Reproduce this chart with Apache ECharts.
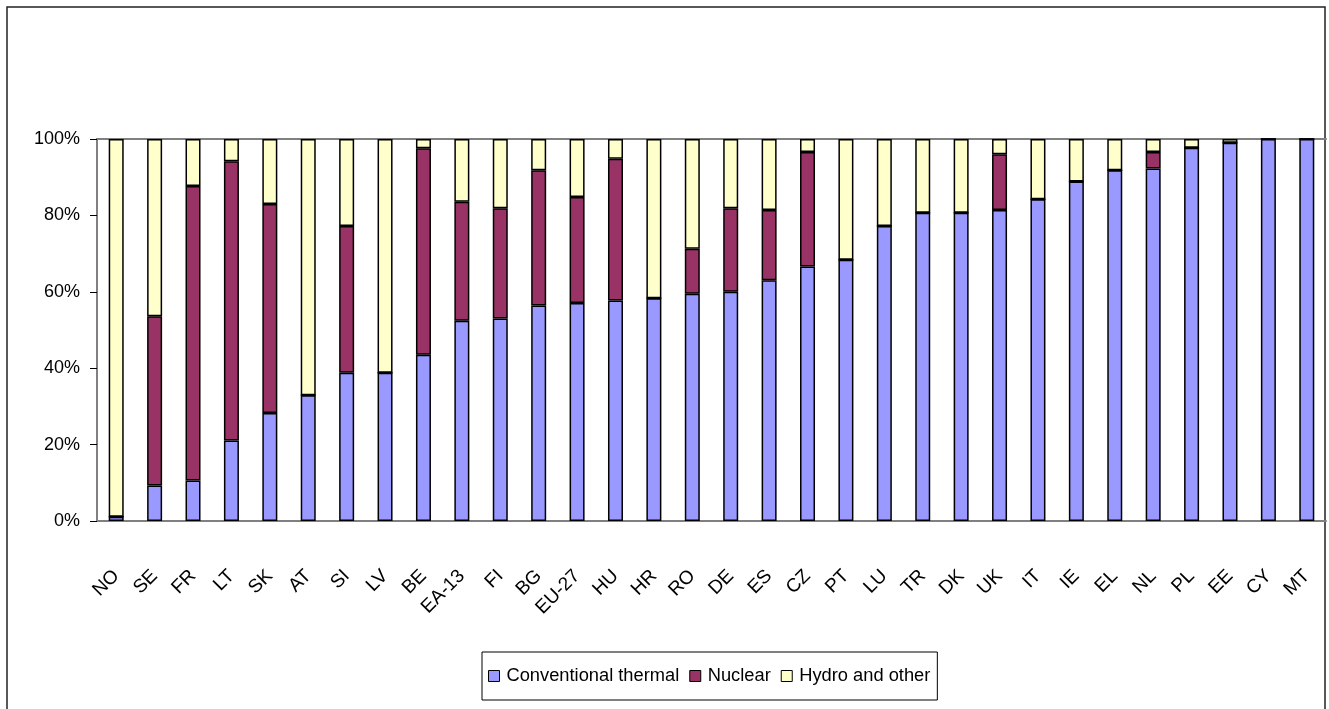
<!DOCTYPE html>
<html>
<head>
<meta charset="utf-8">
<script src="https://cdn.jsdelivr.net/npm/echarts@6/dist/echarts.min.js"></script>
<style>
  html, body { margin: 0; padding: 0; background: #fff; }
  #chart { width: 1329px; height: 709px; }
</style>
</head>
<body>
<div id="chart"></div>
<script>
var categories = ['NO', 'SE', 'FR', 'LT', 'SK', 'AT', 'SI', 'LV', 'BE', 'EA-13', 'FI', 'BG', 'EU-27', 'HU', 'HR', 'RO',
  'DE', 'ES', 'CZ', 'PT', 'LU', 'TR', 'DK', 'UK', 'IT', 'IE', 'EL', 'NL', 'PL', 'EE', 'CY', 'MT']
var conventional = [1.1, 9.3, 10.6, 21.1, 28.3, 32.9, 38.8, 38.8, 43.5, 52.4, 53.0, 56.4, 57.1, 57.7, 58.3, 59.5,
  60.0, 63.0, 66.6, 68.4, 77.2, 80.7, 80.7, 81.4, 84.2, 88.9, 91.8, 92.3, 97.7, 99.0, 100, 100]
var nuclear = [0, 44.3, 77.1, 73.1, 54.7, 0, 38.4, 0, 54.1, 31.2, 28.9, 35.4, 27.7, 37.1, 0, 11.8,
  21.9, 18.4, 30.0, 0, 0, 0, 0, 14.6, 0, 0, 0, 4.3, 0, 0, 0, 0]
var hydro = [98.9, 46.4, 12.3, 5.8, 17.0, 67.1, 22.8, 61.2, 2.4, 16.4, 18.1, 8.2, 15.2, 5.2, 41.7, 28.7,
  18.1, 18.6, 3.4, 31.6, 22.8, 19.3, 19.3, 4.0, 15.8, 11.1, 8.2, 3.4, 2.3, 1.0, 0, 0]
var yTicks = [0, 20, 40, 60, 80, 100]

var font = '"Liberation Sans Narrow", "Liberation Sans", sans-serif'
var myChart = echarts.init(document.getElementById('chart'))

function barSeries (name, data, color) {
  return {
    name: name,
    type: 'bar',
    stack: 'total',
    barWidth: 15,
    data: data,
    itemStyle: {
      color: color,
      borderColor: '#000',
      borderWidth: 1.5
    }
  }
}

var option = {
  animation: false,
  textStyle: { fontFamily: font },
  graphic: [{
    type: 'rect',
    shape: { x: 7, y: 7, width: 1318, height: 720 },
    style: { fill: 'none', stroke: '#222', lineWidth: 1.5 },
    silent: true
  }],
  grid: { left: 97, right: 3, top: 139, bottom: 188 },
  legend: {
    left: 482,
    top: 652,
    itemWidth: 11,
    itemHeight: 11,
    itemGap: 10,
    padding: [15, 7, 15, 6],
    borderColor: '#000',
    borderWidth: 1,
    icon: 'rect',
    itemStyle: { borderColor: '#000', borderWidth: 1 },
    textStyle: { fontFamily: font, fontSize: 18.3, color: '#000', padding: [0, 0, 0, 2] },
    data: ['Conventional thermal', 'Nuclear', 'Hydro and other']
  },
  xAxis: [{
    type: 'category',
    data: categories,
    axisLine: { lineStyle: { color: '#808080', width: 2 } },
    axisTick: { length: 7, lineStyle: { color: '#222' } },
    axisLabel: {
      interval: 0,
      rotate: 45,
      margin: 52,
      fontFamily: font,
      fontSize: 19,
      color: '#000'
    }
  }, {
    type: 'category',
    position: 'top',
    data: categories,
    axisLine: { lineStyle: { color: '#808080', width: 2 } },
    axisTick: { show: false },
    axisLabel: { show: false }
  }],
  yAxis: {
    type: 'value',
    min: yTicks[0],
    max: yTicks[yTicks.length - 1],
    interval: 20,
    splitLine: { show: false },
    axisLine: { show: true, lineStyle: { color: '#808080', width: 2 } },
    axisTick: { show: true, length: 7, lineStyle: { color: '#000' } },
    axisLabel: {
      formatter: '{value}%',
      margin: 17,
      fontFamily: font,
      fontSize: 18,
      color: '#000'
    }
  },
  series: [
    barSeries('Conventional thermal', conventional, '#9999FF'),
    barSeries('Nuclear', nuclear, '#993366'),
    barSeries('Hydro and other', hydro, '#FFFFCC')
  ]
}
myChart.setOption(option)
</script>
</body>
</html>
